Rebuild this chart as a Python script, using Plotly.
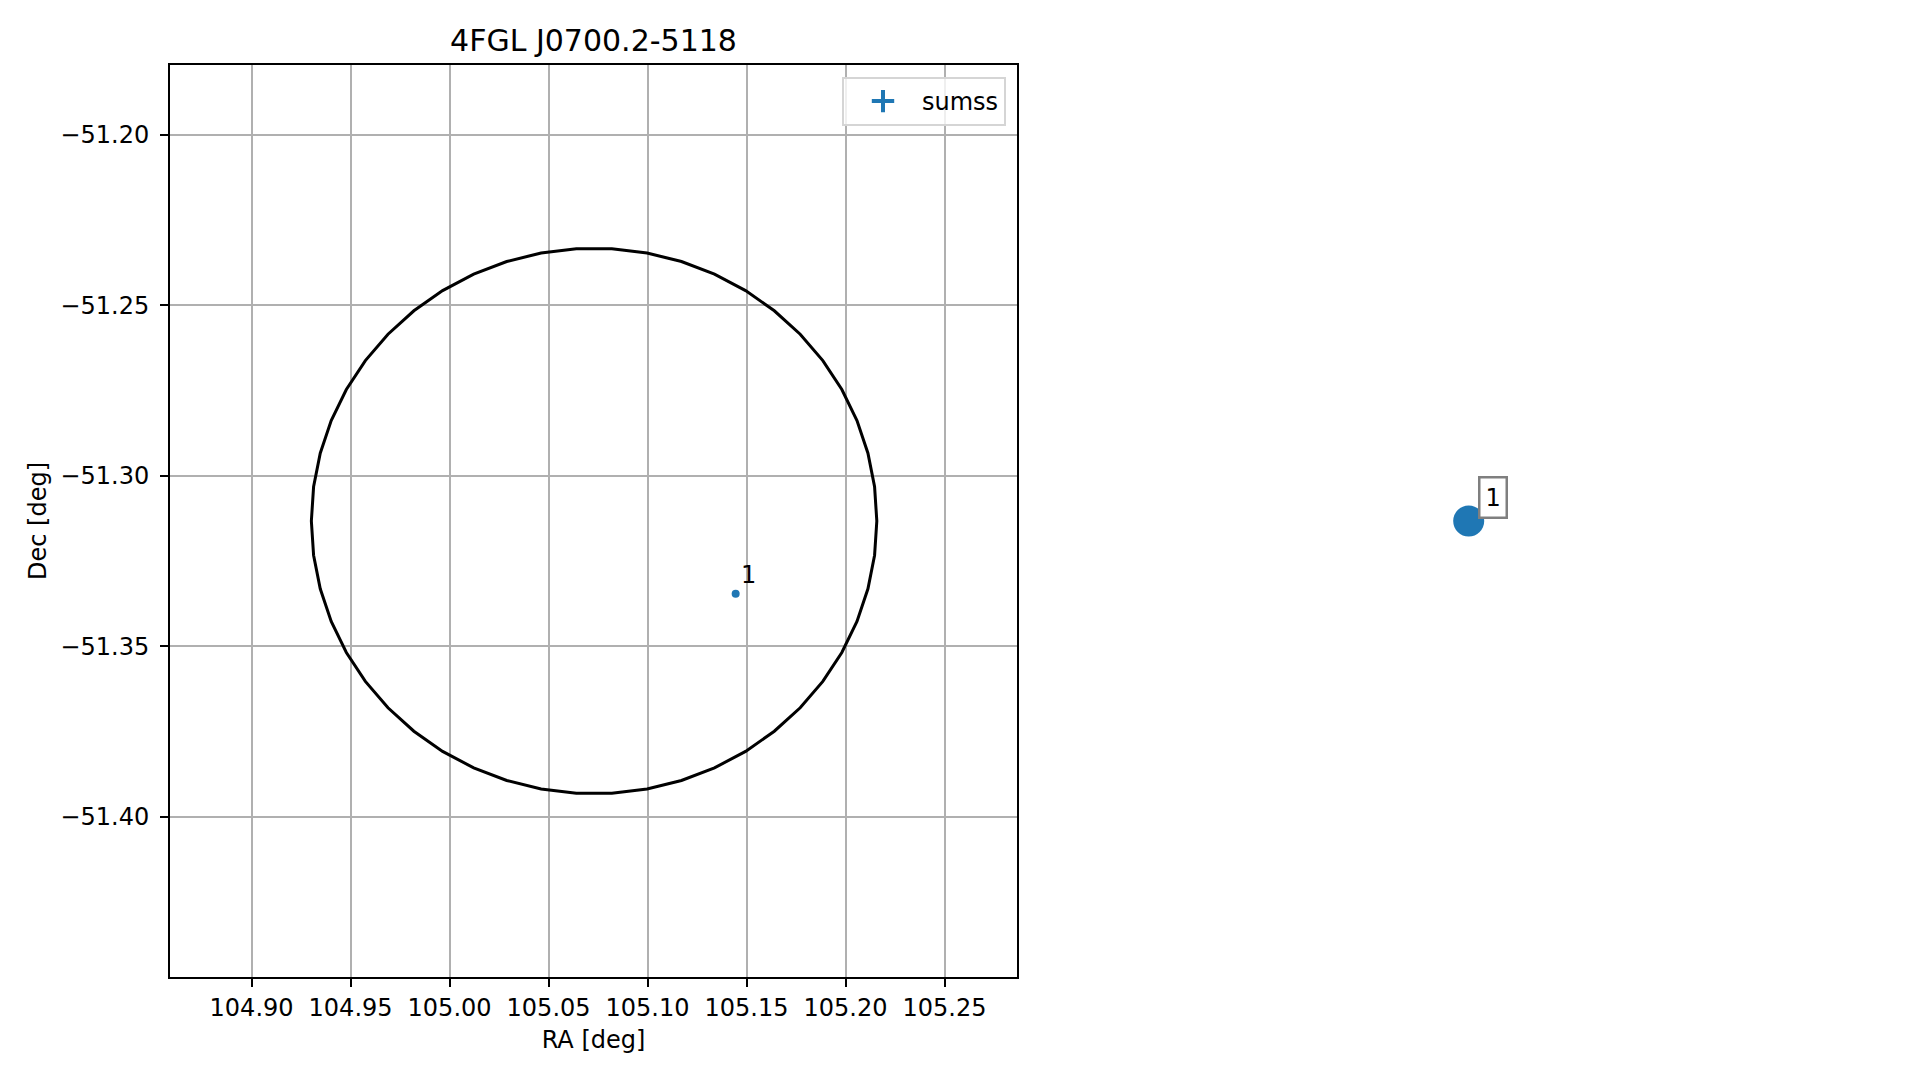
import numpy as np
import plotly.graph_objects as go

# ---------------- data ----------------
title_text = "4FGL J0700.2-5118"
x_label = "RA [deg]"
y_label = "Dec [deg]"

# 4FGL localisation contour (ellipse parameters)
ellipse_center_ra = 105.0730
ellipse_center_dec = -51.3133
ellipse_semi_ra = 0.1428
ellipse_semi_dec = 0.0800
ellipse_n_vertices = 50

# SUMSS counterpart
src_ra = [105.1445]
src_dec = [-51.3346]
src_labels = ["1"]
legend_name = "sumss"

# axis ticks
x_tickvals = [104.90, 104.95, 105.00, 105.05, 105.10, 105.15, 105.20, 105.25]
x_ticktext = ["104.90", "104.95", "105.00", "105.05", "105.10", "105.15", "105.20", "105.25"]
y_tickvals = [-51.20, -51.25, -51.30, -51.35, -51.40]
y_ticktext = ["\u221251.20", "\u221251.25", "\u221251.30", "\u221251.35", "\u221251.40"]
x_range = [104.8588, 105.2866]
y_range = [-51.4470, -51.1796]

# ---------------- contour geometry ----------------
theta = np.linspace(np.pi, 3 * np.pi, ellipse_n_vertices + 1)
ell_ra = ellipse_center_ra + ellipse_semi_ra * np.cos(theta)
ell_dec = ellipse_center_dec - ellipse_semi_dec * np.sin(theta)

BLUE = "#1f77b4"
FONT = "DejaVu Sans"

# page has an 8px body margin; work in screen pixels and subtract it
OFF = 8
W, H = 1919 - 2 * OFF, 1080 - 2 * OFF
ML = 170 - OFF
MT = 65 - OFF
plot_right = 1017 - OFF
plot_bottom = 977 - OFF
MR = 0
MB = H - plot_bottom
PW = W - ML - MR
PH = H - MT - MB
xdom1 = [0, (plot_right - ML) / PW]
right_center = 1468.7 - OFF
c2 = (right_center - ML) / PW
xdom2 = [c2 - 0.1, c2 + 0.1]
title_center = 593.5 - OFF

fig = go.Figure()

fig.add_trace(go.Scatter(
    x=ell_ra, y=ell_dec, mode="lines",
    line=dict(color="black", width=3),
    showlegend=False, hoverinfo="skip",
))

fig.add_trace(go.Scatter(
    x=src_ra, y=src_dec, mode="markers",
    marker=dict(color=BLUE, size=8),
    showlegend=False, name=legend_name,
))

# legend entry (errorbar-like cross)
fig.add_trace(go.Scatter(
    x=[None], y=[None], mode="markers", name=legend_name,
    marker=dict(symbol="cross-thin", size=24, color=BLUE,
                line=dict(color=BLUE, width=4)),
    showlegend=True,
))

# right panel: same source, large marker
fig.add_trace(go.Scatter(
    x=src_ra, y=src_dec, mode="markers", xaxis="x2", yaxis="y2",
    marker=dict(color=BLUE, size=31),
    showlegend=False, name=legend_name,
))

annotations = []
for ra, dec, lab in zip(src_ra, src_dec, src_labels):
    annotations.append(dict(
        x=ra, y=dec, xref="x", yref="y", text=lab, showarrow=False,
        xanchor="center", yanchor="middle", xshift=13, yshift=19,
        font=dict(family=FONT, size=24, color="black"),
    ))
    annotations.append(dict(
        x=ra, y=dec, xref="x2", yref="y2", text=lab, showarrow=False,
        xanchor="center", yanchor="middle", xshift=24, yshift=24,
        font=dict(family=FONT, size=24, color="black"),
        bgcolor="white", bordercolor="#7f7f7f", borderwidth=2.5, borderpad=5,
    ))

axis_common = dict(
    showgrid=True, gridcolor="#b0b0b0", gridwidth=1.6,
    showline=True, linecolor="black", linewidth=2, mirror=True,
    ticks="outside", ticklen=8, tickwidth=1.8, tickcolor="black",
    zeroline=False, tickfont=dict(family=FONT, size=24, color="black"),
)

fig.update_layout(
    width=W, height=H,
    margin=dict(l=ML, r=MR, t=MT, b=MB, autoexpand=False),
    paper_bgcolor="white", plot_bgcolor="white",
    font=dict(family=FONT, size=24, color="black"),
    title=dict(text=title_text, x=(title_center - ML) / PW, xref="paper",
               xanchor="center", y=1 - (40 - OFF) / H, yref="container", yanchor="middle",
               font=dict(family=FONT, size=30, color="black")),
    xaxis=dict(domain=xdom1, range=x_range, tickvals=x_tickvals, ticktext=x_ticktext,
               title=dict(text=x_label, standoff=10, font=dict(family=FONT, size=24)),
               **axis_common),
    yaxis=dict(domain=[0, 1], range=y_range, tickvals=y_tickvals, ticktext=y_ticktext,
               ticklabelstandoff=6,
               title=dict(text=y_label, standoff=7, font=dict(family=FONT, size=24)),
               **axis_common),
    xaxis2=dict(domain=xdom2, range=[src_ra[0] - 0.01, src_ra[0] + 0.01],
                visible=False, anchor="y2"),
    yaxis2=dict(domain=[0, 1], range=[src_dec[0] - 0.01, src_dec[0] + 0.01],
                visible=False, anchor="x2"),
    legend=dict(x=(1006 - OFF - ML) / PW, xanchor="right", y=1 - (77 - OFF - MT) / PH,
                yanchor="top", itemwidth=68,
                bgcolor="rgba(255,255,255,0.8)", bordercolor="#d5d5d5", borderwidth=2,
                font=dict(family=FONT, size=24, color="black")),
    annotations=annotations,
    showlegend=True,
)

fig.write_html("out.html")
